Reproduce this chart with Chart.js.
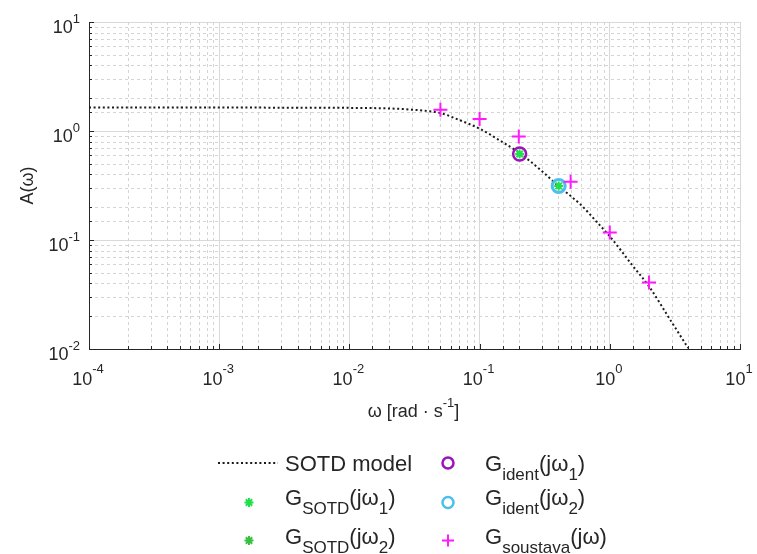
<!DOCTYPE html>
<html><head><meta charset="utf-8">
<script src="https://cdn.jsdelivr.net/npm/chart.js@4.4.1/dist/chart.umd.min.js"></script>
<style>
html,body{margin:0;padding:0;background:#fff;}
#wrap{position:relative;width:757px;height:554px;overflow:hidden;font-family:"Liberation Sans",Arial,sans-serif;color:#262626;}
#c{position:absolute;left:0;top:0;}
.lg{position:absolute;white-space:nowrap;font-size:22px;line-height:22px;}
.lg sub{font-size:17px;vertical-align:baseline;position:relative;top:9px;}
#marks{position:absolute;left:0;top:0;}
</style></head><body>
<div id="wrap"><canvas id="c" width="757" height="554"></canvas>
<svg id="marks" width="757" height="554"></svg>
<div id="legend"></div>
</div>
<script>
// ---- data ----
const modelOmega = [0.0001, 0.001, 0.005, 0.01, 0.02, 0.03, 0.05, 0.07, 0.1, 0.15, 0.2, 0.3, 0.4, 0.6, 0.8, 1, 1.5, 2, 3, 4];
const modelAmp   = [1.64, 1.64, 1.635, 1.63, 1.61, 1.57, 1.46, 1.26, 1.05, 0.79, 0.635, 0.43, 0.315, 0.21, 0.145, 0.108, 0.058, 0.0375, 0.0175, 0.0102];
const sotdOmega1 = [0.203];
const sotdAmp1   = [0.615];
const sotdOmega2 = [0.405];
const sotdAmp2   = [0.313];
const identOmega1 = [0.203];
const identAmp1   = [0.615];
const identOmega2 = [0.405];
const identAmp2   = [0.313];
const soustavaOmega = [0.05, 0.1, 0.2, 0.5, 1, 2];
const soustavaAmp   = [1.57, 1.29, 0.89, 0.343, 0.117, 0.0408];
const xTickExps = [-4, -3, -2, -1, 0, 1];
const yTickExps = [-2, -1, 0, 1];
const xTitle = ['ω [rad · s', '-1', ']'];
const yTitle = 'A(ω)';
const legendLabels = [
  'SOTD model',
  'G<sub>SOTD</sub>(jω<sub>1</sub>)',
  'G<sub>SOTD</sub>(jω<sub>2</sub>)',
  'G<sub>ident</sub>(jω<sub>1</sub>)',
  'G<sub>ident</sub>(jω<sub>2</sub>)',
  'G<sub>soustava</sub>(jω)'
];

const pts = (xs, ys) => xs.map((v, i) => ({x: v, y: ys[i]}));
const C = {
  line: '#1a1a1a', green1: '#1fe04a', green2: '#35c040',
  purple: '#9a12b8', cyan: '#4dbeee', magenta: '#ff1aff',
  text: '#262626', major: '#d9d9d9', minor: '#d4d4d4'
};

const isDecade = v => Math.abs(Math.log10(v) - Math.round(Math.log10(v))) < 1e-9;

const axesPlugin = {
  id: 'matlabAxes',
  beforeDatasetsDraw(chart) {
    // dashed minor grid from the minor log scales
    const {ctx, chartArea: a} = chart;
    const sxm = chart.scales.xm, sym = chart.scales.ym;
    ctx.save();
    ctx.strokeStyle = C.minor; ctx.lineWidth = 1; ctx.setLineDash([3, 3]);
    ctx.beginPath();
    sxm.ticks.forEach(t => { const p = Math.round(sxm.getPixelForValue(t.value)) + 0.5; ctx.moveTo(p, a.bottom); ctx.lineTo(p, a.top); });
    sym.ticks.forEach(t => { const p = Math.round(sym.getPixelForValue(t.value)) + 0.5; ctx.moveTo(a.left, p); ctx.lineTo(a.right, p); });
    ctx.stroke();
    ctx.restore();
  },
  afterDraw(chart) {
    const {ctx, chartArea: a} = chart;
    const sx = chart.scales.x, sxm = chart.scales.xm, sy = chart.scales.y, sym = chart.scales.ym;
    ctx.save();
    ctx.strokeStyle = C.text; ctx.lineWidth = 1;
    ctx.beginPath();
    sx.ticks.forEach(t => { const p = Math.round(sx.getPixelForValue(t.value)) + 0.5; ctx.moveTo(p, a.bottom); ctx.lineTo(p, a.bottom - 5); });
    sxm.ticks.forEach(t => { const p = Math.round(sxm.getPixelForValue(t.value)) + 0.5; ctx.moveTo(p, a.bottom); ctx.lineTo(p, a.bottom - 3); });
    sy.ticks.forEach(t => { const p = Math.round(sy.getPixelForValue(t.value)) + 0.5; ctx.moveTo(a.left, p); ctx.lineTo(a.left + 5, p); });
    sym.ticks.forEach(t => { const p = Math.round(sym.getPixelForValue(t.value)) + 0.5; ctx.moveTo(a.left, p); ctx.lineTo(a.left + 3, p); });
    ctx.stroke();

    ctx.fillStyle = C.text;
    ctx.textBaseline = 'alphabetic';
    ctx.textAlign = 'left';
    const big = '18px "Liberation Sans", Arial, sans-serif';
    const small = '13px "Liberation Sans", Arial, sans-serif';
    xTickExps.forEach(e => {
      const px = sx.getPixelForValue(Math.pow(10, e));
      ctx.font = big; const w1 = ctx.measureText('10').width;
      ctx.font = small; const w2 = ctx.measureText(String(e)).width;
      const x0 = px - (w1 + w2) / 2 - 1;
      ctx.font = big; ctx.fillText('10', x0, a.bottom + 36);
      ctx.font = small; ctx.fillText(String(e), x0 + w1, a.bottom + 24);
    });
    yTickExps.forEach(e => {
      const py = sy.getPixelForValue(Math.pow(10, e));
      ctx.font = big; const w1 = ctx.measureText('10').width;
      ctx.font = small; const w2 = ctx.measureText(String(e)).width;
      const x0 = a.left - 9 - w1 - w2;
      ctx.font = big; ctx.fillText('10', x0, py + 11);
      ctx.font = small; ctx.fillText(String(e), x0 + w1, py + 1);
    });
    // x title
    ctx.font = big; const t1 = ctx.measureText(xTitle[0]).width, t3 = ctx.measureText(xTitle[2]).width;
    ctx.font = small; const t2 = ctx.measureText(xTitle[1]).width;
    const cx = (a.left + a.right) / 2 - 1;
    let xs = cx - (t1 + t2 + t3) / 2;
    ctx.font = big; ctx.fillText(xTitle[0], xs, a.bottom + 68);
    ctx.font = small; ctx.fillText(xTitle[1], xs + t1, a.bottom + 58);
    ctx.font = big; ctx.fillText(xTitle[2], xs + t1 + t2, a.bottom + 68);
    // y title
    ctx.translate(33, (a.top + a.bottom) / 2);
    ctx.rotate(-Math.PI / 2);
    ctx.textAlign = 'center';
    ctx.font = big; ctx.fillText(yTitle, 0, 0);
    ctx.restore();
  }
};

const logAxis = (axis, min, max, major) => ({
  type: 'logarithmic', position: axis === 'x' ? 'bottom' : 'left', axis: axis,
  min: min, max: max,
  afterBuildTicks: s => { s.ticks = s.ticks.filter(t => major ? isDecade(t.value) : !isDecade(t.value)); },
  ticks: {display: false},
  grid: major ? {display: true, color: C.major, lineWidth: 1, drawTicks: false}
              : {display: false, drawTicks: false},
  border: major ? {display: true, color: C.text, width: 1} : {display: false}
});

const chart = new Chart(document.getElementById('c'), {
  type: 'scatter',
  data: {datasets: [
    {label: legendLabels[0], data: pts(modelOmega, modelAmp), showLine: true, borderColor: C.line, borderWidth: 2,
     borderDash: [2, 2.6], pointRadius: 0, cubicInterpolationMode: 'monotone', order: 6, clip: 0},
    {label: legendLabels[1], data: pts(sotdOmega1, sotdAmp1), pointStyle: 'star', pointRadius: 4.5, borderWidth: 2,
     borderColor: C.green1, backgroundColor: C.green1, order: 2},
    {label: legendLabels[2], data: pts(sotdOmega2, sotdAmp2), pointStyle: 'star', pointRadius: 4.5, borderWidth: 2,
     borderColor: C.green1, backgroundColor: C.green1, order: 2},
    {label: legendLabels[3], data: pts(identOmega1, identAmp1), pointStyle: 'circle', pointRadius: 6.5, borderWidth: 2.5,
     borderColor: C.purple, backgroundColor: 'rgba(0,0,0,0)', order: 4},
    {label: legendLabels[4], data: pts(identOmega2, identAmp2), pointStyle: 'circle', pointRadius: 6.5, borderWidth: 3,
     borderColor: C.cyan, backgroundColor: 'rgba(0,0,0,0)', order: 4},
    {label: legendLabels[5], data: pts(soustavaOmega, soustavaAmp), pointStyle: 'cross', pointRadius: 7, borderWidth: 2,
     borderColor: C.magenta, backgroundColor: C.magenta, order: 1}
  ]},
  options: {
    responsive: false, animation: false, events: [],
    layout: {padding: {left: 89, top: 22, right: 17, bottom: 205}, autoPadding: false},
    plugins: {legend: {display: false}, tooltip: {enabled: false}},
    scales: {
      xm: logAxis('x', 1e-4, 10, false),
      ym: logAxis('y', 1e-2, 10, false),
      x: logAxis('x', 1e-4, 10, true),
      y: logAxis('y', 1e-2, 10, true)
    }
  },
  plugins: [axesPlugin]
});

// ---- legend (HTML text + SVG samples) ----
const legendItems = [
  {col: 0, row: 0, kind: 'line', color: C.line},
  {col: 0, row: 1, kind: 'star', color: C.green1},
  {col: 0, row: 2, kind: 'star', color: C.green2},
  {col: 1, row: 0, kind: 'circle', color: C.purple},
  {col: 1, row: 1, kind: 'circle', color: C.cyan},
  {col: 1, row: 2, kind: 'cross', color: C.magenta}
];
const rowMark = [463, 502.5, 540.5];
const rowBase = [472, 506, 545];
const colMark = [249, 448];
const colText = [285, 485];
const svg = document.getElementById('marks');
const NS = 'http://www.w3.org/2000/svg';
const mk = (tag, attrs) => { const e = document.createElementNS(NS, tag); for (const k in attrs) e.setAttribute(k, attrs[k]); svg.appendChild(e); return e; };
const legend = document.getElementById('legend');
legendItems.forEach((it, i) => {
  const cx = colMark[it.col], cy = rowMark[it.row];
  if (it.kind === 'line') {
    mk('line', {x1: 218, x2: 278, y1: cy, y2: cy, stroke: it.color, 'stroke-width': 2, 'stroke-dasharray': '2 2.6'});
  } else if (it.kind === 'star') {
    const r = 4.5, d = r * Math.SQRT1_2;
    mk('path', {d: `M${cx-r} ${cy}H${cx+r}M${cx} ${cy-r}V${cy+r}M${cx-d} ${cy-d}L${cx+d} ${cy+d}M${cx-d} ${cy+d}L${cx+d} ${cy-d}`,
      stroke: it.color, 'stroke-width': 2, fill: 'none'});
  } else if (it.kind === 'circle') {
    mk('circle', {cx: cx, cy: cy, r: 5.5, stroke: it.color, 'stroke-width': 2.5, fill: 'none'});
  } else if (it.kind === 'cross') {
    const r = 6;
    mk('path', {d: `M${cx-r} ${cy}H${cx+r}M${cx} ${cy-r}V${cy+r}`, stroke: it.color, 'stroke-width': 2, fill: 'none'});
  }
  const d = document.createElement('div');
  d.className = 'lg';
  d.style.left = colText[it.col] + 'px';
  d.style.top = (rowBase[it.row] - 18.6) + 'px';
  d.innerHTML = legendLabels[i];
  legend.appendChild(d);
});
</script>
</body></html>
